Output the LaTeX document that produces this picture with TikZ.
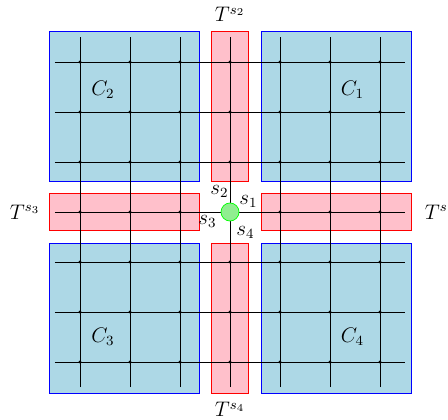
\documentclass[tikz,border=0pt]{standalone}
\usepackage{xcolor}
\usetikzlibrary{positioning}
\definecolor{cellblue}{RGB}{173, 216, 230}
\definecolor{strippink}{RGB}{255, 192, 203}
\definecolor{srcgreen}{RGB}{144, 238, 144}

\begin{document}
\begin{tikzpicture}[font=\large,
  cellbox/.style={draw=blue, fill=cellblue},
  stripbox/.style={draw=red, fill=strippink},
  gridline/.style={thin, black}]
\useasboundingbox (-4.6,-4.14) rectangle (4.36,4.24);

% the four cells
\draw[cellbox] (0.62,0.62) rectangle (3.62,3.62);
\draw[cellbox] (-0.62,0.62) rectangle (-3.62,3.62);
\draw[cellbox] (-0.62,-0.62) rectangle (-3.62,-3.62);
\draw[cellbox] (0.62,-0.62) rectangle (3.62,-3.62);

% the strips
\draw[stripbox] (0.62,-0.37) rectangle (3.62,0.37);
\draw[stripbox] (-0.375,0.62) rectangle (0.375,3.62);
\draw[stripbox] (-0.62,-0.37) rectangle (-3.62,0.37);
\draw[stripbox] (-0.375,-0.62) rectangle (0.375,-3.62);

% grid
\foreach \k in {-3,...,3} {
  \draw[gridline] (\k,-3.5) -- (\k,3.5);
  \draw[gridline] (-3.5,\k) -- (3.5,\k);
}
\foreach \i in {-3,...,3}
  \foreach \j in {-3,...,3}
    \fill (\i,\j) circle (0.032);

\node[draw=green, fill=srcgreen, circle, minimum size=0.36cm, inner sep=0pt] (src) at (0,0) {};
\node (s1) at (0.37,0.21) {$s_1$};
\node (s2) at (-0.21,0.41) {$s_2$};
\node (s3) at (-0.45,-0.19) {$s_3$};
\node (s4) at (0.31,-0.41) {$s_4$};

\node (c1) at (2.45,2.45) {$C_1$};
\node (c2) at (-2.54,2.45) {$C_2$};
\node (c3) at (-2.54,-2.5) {$C_3$};
\node (c4) at (2.45,-2.5) {$C_4$};

\node (t1) at (4.2,0) {$T^{s_1}$};
\node (t2) at (0,3.95) {$T^{s_2}$};
\node (t3) at (-4.1,0) {$T^{s_3}$};
\node (t4) at (0,-3.95) {$T^{s_4}$};
\end{tikzpicture}
\end{document}
